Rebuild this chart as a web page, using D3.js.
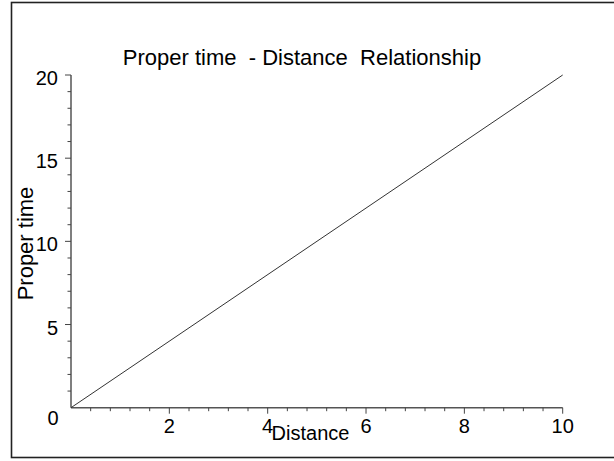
<!DOCTYPE html>
<html><head><meta charset="utf-8">
<script src="https://cdn.jsdelivr.net/npm/d3@7"></script>
<style>
html,body{margin:0;padding:0;background:#fff;}
svg{display:block;}
text{font-family:"Liberation Sans",Arial,Helvetica,sans-serif;fill:#000;}
</style></head><body>
<svg id="c" width="614" height="461"></svg>
<script>
// Data
const distance = [0, 10];
const properTime = [0, 20];
const xTicks = [2, 4, 6, 8, 10];
const yTicks = [5, 10, 15, 20];
const title = "Proper time  - Distance  Relationship";
const xLabel = "Distance";
const yLabel = "Proper time";

const svg = d3.select("#c");
const x = d3.scaleLinear().domain([0, 10]).range([71, 562.7]);
const y = d3.scaleLinear().domain([0, 20]).range([407.7, 75]);

// frame
svg.append("rect").attr("x", 11.5).attr("y", 2.5).attr("width", 604).attr("height", 455)
  .attr("fill", "none").attr("stroke", "#222").attr("stroke-width", 1.6);

// x axis
const xMinor = d3.range(0.4, 10.001, 0.4).filter(v => Math.abs(v / 2 - Math.round(v / 2)) > 1e-6);
const gx = svg.append("g").attr("transform", `translate(0,${y(0)})`);
gx.append("line").attr("x1", x(0)).attr("x2", x(10)).attr("stroke", "#555").attr("stroke-width", 1.5);
gx.selectAll(".mj").data(xTicks).join("line").attr("x1", d => x(d)).attr("x2", d => x(d))
  .attr("y1", 0).attr("y2", 6).attr("stroke", "#444").attr("stroke-width", 1);
gx.selectAll(".mn").data(xMinor).join("line").attr("x1", d => x(d)).attr("x2", d => x(d))
  .attr("y1", 0).attr("y2", 3.5).attr("stroke", "#444").attr("stroke-width", 1);
gx.selectAll("text").data(xTicks).join("text").attr("x", d => x(d)).attr("y", 25.5)
  .attr("text-anchor", "middle").style("font-size", "20px").text(d => d);

// y axis
const yMinor = d3.range(1, 20.001, 1).filter(v => v % 5 !== 0);
const gy = svg.append("g").attr("transform", `translate(${x(0)},0)`);
gy.append("line").attr("y1", y(0)).attr("y2", y(20)).attr("stroke", "#555").attr("stroke-width", 1.5);
gy.selectAll(".mj").data(yTicks).join("line").attr("y1", d => y(d)).attr("y2", d => y(d))
  .attr("x1", 0).attr("x2", -6).attr("stroke", "#444").attr("stroke-width", 1);
gy.selectAll(".mn").data(yMinor).join("line").attr("y1", d => y(d)).attr("y2", d => y(d))
  .attr("x1", 0).attr("x2", -3.5).attr("stroke", "#444").attr("stroke-width", 1);
gy.selectAll("text").data(yTicks).join("text").attr("x", -13).attr("y", d => y(d) + 10)
  .attr("text-anchor", "end").style("font-size", "20px").text(d => d);

// origin label
svg.append("text").attr("x", x(0) - 18).attr("y", y(0) + 17).attr("text-anchor", "middle")
  .style("font-size", "20px").text("0");

// line
svg.append("path").datum(distance.map((d, i) => [d, properTime[i]]))
  .attr("d", d3.line().x(d => x(d[0])).y(d => y(d[1])))
  .attr("fill", "none").attr("stroke", "#333").attr("stroke-width", 1);

// title and labels
svg.append("text").attr("x", 302).attr("y", 65).attr("text-anchor", "middle")
  .style("font-size", "22px").style("white-space", "pre").attr("xml:space", "preserve").text(title);
svg.append("text").attr("x", 310.5).attr("y", 439.5).attr("text-anchor", "middle")
  .style("font-size", "20px").text(xLabel);
svg.append("text").attr("transform", "translate(32.5,243.5) rotate(-90)").attr("text-anchor", "middle")
  .style("font-size", "22px").text(yLabel);
</script>
</body></html>
